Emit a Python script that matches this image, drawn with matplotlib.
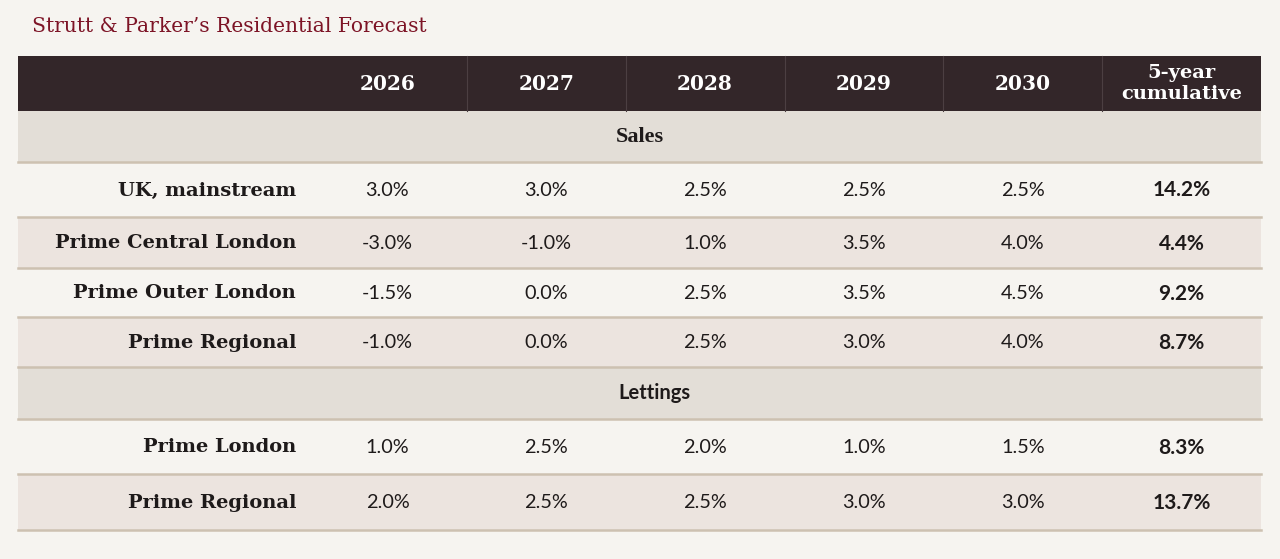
import matplotlib
matplotlib.use("Agg")
import matplotlib.pyplot as plt
from matplotlib.patches import Rectangle

# ---- data ----
title = "Strutt & Parker\u2019s Residential Forecast"
years = ["2026", "2027", "2028", "2029", "2030"]
cum_header = "5-year\ncumulative"

sales_section = "Sales"
sales_labels = ["UK, mainstream", "Prime Central London", "Prime Outer London", "Prime Regional"]
sales_values = [
    [3.0, 3.0, 2.5, 2.5, 2.5],
    [-3.0, -1.0, 1.0, 3.5, 4.0],
    [-1.5, 0.0, 2.5, 3.5, 4.5],
    [-1.0, 0.0, 2.5, 3.0, 4.0],
]
sales_cum = [14.2, 4.4, 9.2, 8.7]

lettings_section = "Lettings"
lettings_labels = ["Prime London", "Prime Regional"]
lettings_values = [
    [1.0, 2.5, 2.0, 1.0, 1.5],
    [2.0, 2.5, 2.5, 3.0, 3.0],
]
lettings_cum = [8.3, 13.7]

# ---- style ----
BG = "#f6f4f0"
HEAD = "#332629"
HEAD_DIV = "#4c3f42"
SECTION = "#e3ded7"
ALT = "#ece4df"
LINE = "#cdc1b1"
TITLE_C = "#7d1426"
TEXT_C = "#1e1a1a"
SERIF = "DejaVu Serif"
SERIF2 = "Liberation Serif"
SANS = "Lato"

W, H = 1280, 559
fig = plt.figure(figsize=(W / 100, H / 100), dpi=100, facecolor=BG)
ax = fig.add_axes([0, 0, 1, 1])
ax.set_xlim(0, W)
ax.set_ylim(H, 0)
ax.axis("off")
ax.set_facecolor(BG)

left, right = 18, 1261
label_right = 308
col_w = (right - label_right) / 6
col_edges = [label_right + i * col_w for i in range(7)]
col_centers = [(col_edges[i] + col_edges[i + 1]) / 2 for i in range(6)]

ax.text(32, 26, title, fontsize=14.6, color=TITLE_C, family=SERIF,
        ha="left", va="center")

# header
htop, hbot = 56, 111
ax.add_patch(Rectangle((left, htop), right - left, hbot - htop, facecolor=HEAD,
                       edgecolor="none", zorder=1))
for x in col_edges[1:-1]:
    ax.plot([x, x], [htop, hbot], color=HEAD_DIV, lw=0.8, zorder=2)
for i, y in enumerate(years):
    ax.text(col_centers[i], (htop + hbot) / 2 + 1, y, fontsize=14.5, color="white",
            family=SERIF, weight="bold", ha="center", va="center", zorder=3)
ax.text(col_centers[5], (htop + hbot) / 2, cum_header, fontsize=14, color="white",
        family=SERIF, weight="bold", ha="center", va="center", zorder=3,
        linespacing=1.25)

def fmt(v):
    return f"{v:.1f}%"

def section_row(y0, y1, text, fam, size, xc):
    ax.add_patch(Rectangle((left, y0), right - left, y1 - y0, facecolor=SECTION,
                           edgecolor="none", zorder=1))
    ax.text(xc, (y0 + y1) / 2, text, fontsize=size,
            family=fam, weight="bold",
            color=TEXT_C, ha="center", va="center", zorder=3)
    ax.plot([left, right], [y1, y1], color=LINE, lw=1.8, zorder=2)

def data_rows(bounds, labels, values, cum):
    for k, (lab, vals, c) in enumerate(zip(labels, values, cum)):
        y0, y1 = bounds[k], bounds[k + 1]
        fc = BG if k % 2 == 0 else ALT
        ax.add_patch(Rectangle((left, y0), right - left, y1 - y0, facecolor=fc,
                               edgecolor="none", zorder=1))
        yc = (y0 + y1) / 2 + 1
        ax.text(label_right - 12, yc, lab, fontsize=14, family=SERIF, weight="bold",
                color=TEXT_C, ha="right", va="center", zorder=3)
        for i, v in enumerate(vals):
            ax.text(col_centers[i], yc, fmt(v), fontsize=14.3, family=SANS,
                    color=TEXT_C, ha="center", va="center", zorder=3)
        ax.text(col_centers[5], yc, fmt(c), fontsize=15, family=SANS, weight="bold",
                color=TEXT_C, ha="center", va="center", zorder=3)
        ax.plot([left, right], [y1, y1], color=LINE, lw=1.8, zorder=2)

section_row(111, 162, sales_section, SERIF2, 16, 640)
data_rows([162, 217, 268, 317, 367], sales_labels, sales_values, sales_cum)
section_row(367, 419, lettings_section, SANS, 14.5, 654)
data_rows([419, 474, 530], lettings_labels, lettings_values, lettings_cum)

fig.savefig("out.png", dpi=100, facecolor=BG)
